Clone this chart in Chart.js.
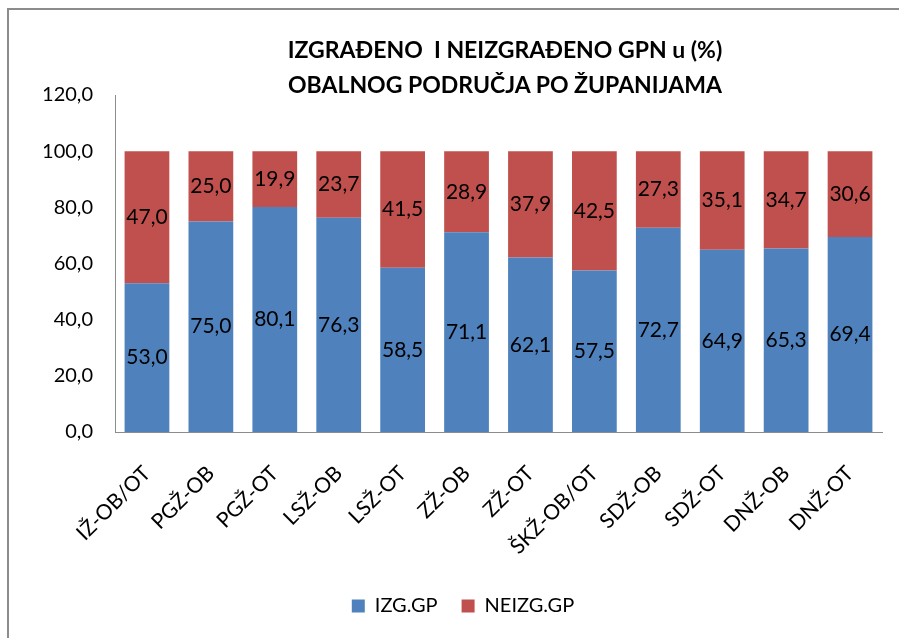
<!DOCTYPE html>
<html>
<head>
<meta charset="utf-8">
<script src="https://cdn.jsdelivr.net/npm/chart.js@4.4.1/dist/chart.umd.min.js"></script>
<style>
    html, body { margin: 0; padding: 0; background: #fff; overflow: hidden; }
    #wrap { position: relative; width: 899px; height: 638px; }
    #frame {
        position: absolute; left: 7px; top: 8px; width: 1000px; height: 1000px;
        border-left: 2px solid #8c8c8c; border-top: 2px solid #8c8c8c;
        pointer-events: none;
    }
    #title {
        position: absolute; left: 205px; top: 32px; width: 600px;
        text-align: center; font: bold 23px/35px Lato, "Open Sans", sans-serif; color: #000;
    }
    canvas { position: absolute; left: 0; top: 0; }
</style>
</head>
<body>
<div id="wrap">
    <canvas id="chart" width="899" height="638"></canvas>
    <div id="title"></div>
    <div id="frame"></div>
</div>
<script>
// Data
const categories = ['IŽ-OB/OT', 'PGŽ-OB', 'PGŽ-OT', 'LSŽ-OB', 'LSŽ-OT', 'ZŽ-OB', 'ZŽ-OT', 'ŠKŽ-OB/OT', 'SDŽ-OB', 'SDŽ-OT', 'DNŽ-OB', 'DNŽ-OT'];
const izgradeno = [53.0, 75.0, 80.1, 76.3, 58.5, 71.1, 62.1, 57.5, 72.7, 64.9, 65.3, 69.4];
const neizgradeno = [47.0, 25.0, 19.9, 23.7, 41.5, 28.9, 37.9, 42.5, 27.3, 35.1, 34.7, 30.6];
const seriesNames = ['IZG.GP', 'NEIZG.GP'];
const titleLines = ['IZGRAĐENO  I NEIZGRAĐENO GPN u (%)', 'OBALNOG PODRUČJA PO ŽUPANIJAMA'];

const FONT = 'Lato, "Open Sans", sans-serif';
const fmt = v => v.toFixed(1).replace('.', ',');

const titleEl = document.getElementById('title');
titleLines.forEach(line => {
    const d = document.createElement('div');
    d.textContent = line;
    d.style.whiteSpace = 'pre';
    titleEl.appendChild(d);
});

// Draw the value of each segment in the middle of it
const segmentLabels = {
    id: 'segmentLabels',
    afterDatasetsDraw(chart) {
        const ctx = chart.ctx;
        ctx.save();
        ctx.font = '21px ' + FONT;
        ctx.fillStyle = '#000';
        ctx.textAlign = 'center';
        ctx.textBaseline = 'middle';
        chart.data.datasets.forEach((ds, i) => {
            chart.getDatasetMeta(i).data.forEach((bar, j) => {
                ctx.fillText(fmt(ds.data[j]), bar.x, (bar.y + bar.base) / 2);
            });
        });
        ctx.restore();
    }
};

new Chart(document.getElementById('chart'), {
    type: 'bar',
    data: {
        labels: categories,
        datasets: [
            { label: seriesNames[0], data: izgradeno, backgroundColor: '#4F81BD' },
            { label: seriesNames[1], data: neizgradeno, backgroundColor: '#C0504D' }
        ]
    },
    options: {
        responsive: false,
        animation: false,
        layout: { padding: { left: 44, right: 17, top: 95, bottom: 12 } },
        datasets: { bar: { categoryPercentage: 1, barPercentage: 0.7 } },
        scales: {
            x: {
                stacked: true,
                grid: { display: false, drawTicks: false },
                border: { color: '#8c8c8c', width: 1 },
                ticks: {
                    autoSkip: false, maxRotation: 45, minRotation: 45, padding: 29,
                    color: '#000', font: { family: FONT, size: 21 }
                },
                afterFit: s => { s.height = 140; }
            },
            y: {
                stacked: true,
                min: 0, max: 120,
                grid: { display: false, drawTicks: false },
                border: { color: '#8c8c8c', width: 1 },
                ticks: {
                    stepSize: 20, padding: 22, color: '#000',
                    font: { family: FONT, size: 20 },
                    callback: v => fmt(v)
                },
                afterFit: s => { s.width = 71; }
            }
        },
        plugins: {
            title: { display: false },
            legend: {
                position: 'bottom',
                labels: {
                    boxWidth: 13, boxHeight: 13, padding: 24,
                    color: '#000', font: { family: FONT, size: 20 }
                }
            },
            tooltip: { enabled: false }
        }
    },
    plugins: [segmentLabels]
});
</script>
</body>
</html>
